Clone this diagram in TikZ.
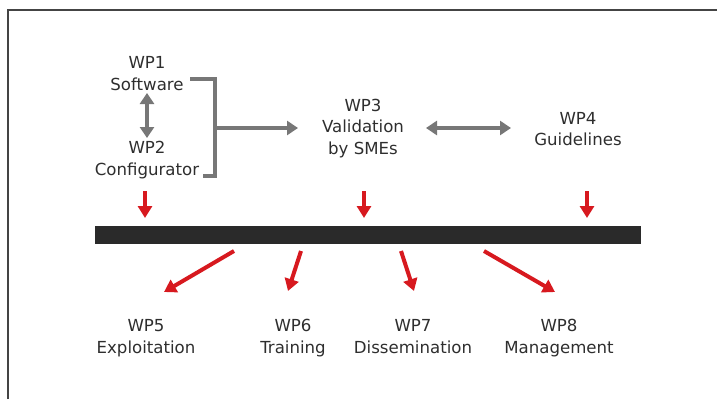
\documentclass[tikz,border=0pt]{standalone}
\usepackage{fontspec}
\setmainfont{DejaVu Sans}
\usetikzlibrary{arrows.meta}
\definecolor{framec}{HTML}{444444}
\definecolor{greyc}{HTML}{777777}
\definecolor{redc}{HTML}{D7191F}
\definecolor{barc}{HTML}{2A2A2A}
\definecolor{txtc}{HTML}{2E2E2E}
\tikzset{
  wp/.style={align=center, inner sep=0pt, text=txtc, font=\fontsize{16.6}{21.5}\selectfont},
  greyarrow/.style={draw=greyc, line width=4pt, -{Triangle[length=11pt,width=14pt]}},
  greydouble/.style={draw=greyc, line width=4pt, {Triangle[length=11pt,width=14pt]}-{Triangle[length=11pt,width=14pt]}},
  greyline/.style={draw=greyc, line width=4pt},
  redarrow/.style={draw=redc, line width=4pt, -{Triangle[length=12pt,width=14pt]}},
  barstyle/.style={fill=barc, draw=none, minimum width=546pt, minimum height=18pt, inner sep=0pt},
}
\begin{document}
\begin{tikzpicture}[x=1pt,y=-1pt]
\useasboundingbox (0,0) rectangle (717,399);
\draw[framec, line width=2.5pt] (8,399) -- (8,10) -- (717,10);

\node[wp] (wp1) at (147,75) {\strut WP1\\\strut Software};
\node[wp] (wp2) at (147,160) {\strut WP2\\\strut Configurator};
\node[wp] (wp3) at (363,128.5) {\strut WP3\\\strut Validation\\\strut by SMEs};
\node[wp] (wp4) at (578,130.5) {\strut WP4\\\strut Guidelines};
\node[wp] (wp5) at (146,338) {\strut WP5\\\strut Exploitation};
\node[wp] (wp6) at (293,338) {\strut WP6\\\strut Training};
\node[wp] (wp7) at (413,338) {\strut WP7\\\strut Dissemination};
\node[wp] (wp8) at (559,338) {\strut WP8\\\strut Management};

\node[barstyle] (bar) at (368,235) {};

% grey connectors
\coordinate (b1) at (190,79);
\coordinate (b2) at (215,79);
\coordinate (b3) at (215,176);
\coordinate (b4) at (203,176);
\coordinate (bm) at (215,128);
\coordinate (w3in) at (298,128);
\draw[greyline] (b1) -- (b2) -- (b3) -- (b4);
\draw[greyarrow] (bm) -- (w3in);
\coordinate (v1) at (147,93);
\coordinate (v2) at (147,138);
\draw[greydouble] (v1) -- (v2);
\coordinate (h1) at (426,128);
\coordinate (h2) at (511,128);
\draw[greydouble] (h1) -- (h2);

% red arrows into bar
\foreach \x/\n in {145/a,364/b,587/c}{
  \coordinate (t\n) at (\x,191);
  \coordinate (e\n) at (\x,218);
  \draw[redarrow] (t\n) -- (e\n);
}
% red arrows out of bar
\coordinate (s5) at (234,251); \coordinate (d5) at (164,292);
\coordinate (s6) at (301,251); \coordinate (d6) at (288,291);
\coordinate (s7) at (401,251); \coordinate (d7) at (414,291);
\coordinate (s8) at (484,251); \coordinate (d8) at (555,292);
\draw[redarrow] (s5) -- (d5);
\draw[redarrow] (s6) -- (d6);
\draw[redarrow] (s7) -- (d7);
\draw[redarrow] (s8) -- (d8);
\end{tikzpicture}
\end{document}
